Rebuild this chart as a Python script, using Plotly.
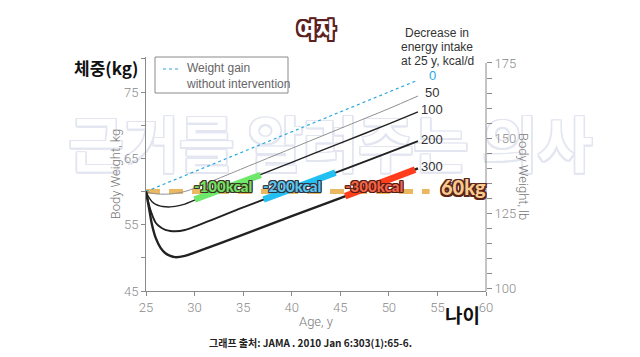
import plotly.graph_objects as go

# ---------------- data ----------------
ages = [25, 25.3, 25.6, 26, 26.5, 27, 27.5, 28, 29, 30, 35, 40, 45, 50, 53]
w_50 = [60, 59.85, 59.75, 59.65, 59.6, 59.6, 59.62, 59.7, 60.0, 60.5, 63.5, 66.5, 69.5, 72.5, 74.4]
w_100 = [60, 59.1, 58.5, 58.05, 57.8, 57.7, 57.68, 57.75, 58.1, 58.7, 61.5, 64.4, 67.3, 70.2, 72.0]
w_200 = [60, 58.0, 56.6, 55.3, 54.6, 54.2, 54.05, 54.0, 54.2, 54.7, 57.6, 60.4, 63.1, 65.9, 67.6]
w_300 = [60, 57.6, 55.1, 53.0, 51.5, 50.7, 50.3, 50.1, 50.3, 50.8, 53.5, 56.3, 59.0, 61.8, 63.5]
gain_ages = [25, 53]
w_gain = [60, 76.8]

hl_100_ages = [30.0, 36.8]
hl_100_w = [58.8, 62.5]
hl_200_ages = [37.1, 44.5]
hl_200_w = [58.8, 62.85]
hl_300_ages = [45.5, 52.7]
hl_300_w = [59.3, 63.3]

ref_ages = [25, 54.2]
ref_w = [60, 60]

end_labels = ["0", "50", "100", "200", "300"]
end_values = [w_gain[-1], w_50[-1], w_100[-1], w_200[-1], w_300[-1]]
end_offsets = [0.65, 0.5, 0.3, 0.25, 0.2]

header_lines = ["Decrease in", "energy intake", "at 25 y, kcal/d"]

x_ticks = [25, 30, 35, 40, 45, 50, 55, 60]
kg_ticks = [45, 55, 65, 75]
lb_ticks = [100, 125, 150, 175]

KG_TO_LB = 2.20462
Y_MIN, Y_MAX = 45, 80.28

AXIS_FONT = "Roboto"
GRAY = "#8a8a8a"


def outline(color, w=1):
    parts = []
    for dx in (-w, 0, w):
        for dy in (-w, 0, w):
            if dx or dy:
                parts.append(f"{dx}px {dy}px 0 {color}")
    return ", ".join(parts)


def px_x(p):
    return (p - 146) / 340


def px_y(p):
    return (291 - p) / 234


fig = go.Figure()

# watermark (drawn first so the curves lie over it)
fig.add_trace(go.Scatter(
    x=[44.0], y=[65.9], mode="text", text=["근거를 알려주는 의사"],
    textfont=dict(family="Noto Sans CJK KR", size=60, color="#ffffff",
                  weight=700, shadow=outline("#e3e6f1", 1.5)),
    cliponaxis=False, hoverinfo="skip", showlegend=False))

# reference 60 kg dashed line
fig.add_trace(go.Scatter(
    x=ref_ages, y=ref_w, mode="lines",
    line=dict(color="#ebb862", width=5, dash="14px,9px"),
    cliponaxis=False, hoverinfo="skip", showlegend=False))

# curves
fig.add_trace(go.Scatter(x=gain_ages, y=w_gain, mode="lines",
                         line=dict(color="#29a8e0", width=1.2, dash="3px,3px"),
                         showlegend=False))
for w, col, lw in [(w_50, "#8f8f8f", 1.0), (w_100, "#222222", 1.4),
                   (w_200, "#222222", 1.9), (w_300, "#222222", 2.4)]:
    fig.add_trace(go.Scatter(x=ages, y=w, mode="lines",
                             line=dict(color=col, width=lw, shape="spline", smoothing=0.8),
                             showlegend=False))

# highlight segments
for xs, ys, col in [(hl_100_ages, hl_100_w, "#6ee86a"),
                    (hl_200_ages, hl_200_w, "#22bff3"),
                    (hl_300_ages, hl_300_w, "#ff3d1c")]:
    fig.add_trace(go.Scatter(x=xs, y=ys, mode="lines",
                             line=dict(color=col, width=6.5),
                             showlegend=False))

# invisible trace carrying the lb axis
fig.add_trace(go.Scatter(x=[25], y=[100], yaxis="y2", mode="markers",
                         marker=dict(opacity=0), showlegend=False, hoverinfo="skip"))

annotations = []
# end labels
for lab, v, off in zip(end_labels, end_values, end_offsets):
    annotations.append(dict(x=54.45, y=v + off, xref="x", yref="y", text=lab,
                            showarrow=False, xanchor="center", yanchor="middle",
                            font=dict(family="Liberation Sans", size=13,
                                      color="#29a8e0" if lab == "0" else "#333333")))

# header for end labels
for i, line in enumerate(header_lines):
    annotations.append(dict(x=px_x(437), y=px_y(33 + 14 * i), xref="paper", yref="paper",
                            text=line, showarrow=False, xanchor="center", yanchor="middle",
                            font=dict(family="Liberation Sans", size=12, color="#333333")))

# kcal labels
kcal_font = "Lato"
for txt, xc, fill, edge in [("-100kcal", 223, "#74e064", "#3b3424"),
                            ("-200kcal", 292, "#5cc6ee", "#2e3440"),
                            ("-300kcal", 374, "#f3664a", "#5a1c12")]:
    annotations.append(dict(x=px_x(xc), y=px_y(186), xref="paper", yref="paper", text=txt,
                            showarrow=False, xanchor="center", yanchor="middle",
                            font=dict(family=kcal_font, size=15, weight=900, color=fill,
                                      shadow=outline(edge, 1))))
annotations.append(dict(x=px_x(463), y=px_y(187), xref="paper", yref="paper",
                        text="60kg", showarrow=False, xanchor="center", yanchor="middle",
                        font=dict(family=kcal_font, size=20, weight=900, color="#f7ca90",
                                  shadow=outline("#5a2418", 1.5))))

# title
annotations.append(dict(x=px_x(316.5), y=px_y(28), xref="paper", yref="paper",
                        text="여자", showarrow=False, xanchor="center", yanchor="middle",
                        font=dict(family="Noto Sans CJK KR", size=21, weight=900, color="#ffffff",
                                  shadow=outline("#5b1f1f", 2))))
# Korean axis notes
annotations.append(dict(x=px_x(105.5), y=px_y(67.5), xref="paper", yref="paper",
                        text="체중(kg)", showarrow=False, xanchor="center", yanchor="middle",
                        font=dict(family="Noto Sans CJK KR", size=17, weight=700, color="#111111")))
annotations.append(dict(x=px_x(462), y=px_y(314), xref="paper", yref="paper",
                        text="나이", showarrow=False, xanchor="center", yanchor="middle",
                        font=dict(family="Noto Sans CJK KR", size=19, weight=700, color="#111111")))
annotations.append(dict(x=px_x(310.5), y=px_y(342), xref="paper", yref="paper",
                        text="그래프 출처: JAMA . 2010 Jan 6:303(1):65-6.", showarrow=False,
                        xanchor="center", yanchor="middle",
                        font=dict(family="Noto Sans CJK KR", size=10, weight=700, color="#222222")))
# right axis title (reads top to bottom)
annotations.append(dict(x=px_x(524), y=px_y(176), xref="paper", yref="paper",
                        text="Body Weight, lb", showarrow=False, textangle=90,
                        xanchor="center", yanchor="middle",
                        font=dict(family=AXIS_FONT, size=13, weight=300, color="#777777")))

# legend (manual box)
annotations.append(dict(x=px_x(184), y=px_y(75.5), xref="paper", yref="paper",
                        text="Weight gain<br>without intervention", showarrow=False,
                        xanchor="left", yanchor="middle", align="left",
                        font=dict(family="Liberation Sans", size=12, color="#666666")))

shapes = [
    dict(type="rect", xref="paper", yref="paper",
         x0=px_x(155), x1=px_x(288), y0=px_y(93), y1=px_y(57),
         line=dict(color="#8a8a8a", width=1), fillcolor="rgba(0,0,0,0)"),
    dict(type="line", xref="paper", yref="paper",
         x0=px_x(163), x1=px_x(181), y0=px_y(69), y1=px_y(69),
         line=dict(color="#29a8e0", width=1.2, dash="3px,3px")),
    # right axis line spanning 100-175 lb
    dict(type="line", xref="paper", yref="y2", x0=1, x1=1, y0=lb_ticks[0] - 0.8, y1=lb_ticks[-1],
         line=dict(color=GRAY, width=1)),
]

fig.update_layout(
    width=640, height=357,
    margin=dict(l=146, r=154, t=57, b=66, autoexpand=False),
    paper_bgcolor="white", plot_bgcolor="white",
    showlegend=False,
    annotations=annotations,
    shapes=shapes,
    xaxis=dict(range=[25, 60], tickvals=x_ticks, ticks="outside", ticklen=4,
               tickcolor=GRAY, showline=True, linecolor=GRAY, linewidth=1,
               showgrid=False, zeroline=False, automargin=False,
               tickfont=dict(family=AXIS_FONT, size=13, weight=300, color=GRAY),
               title=dict(text="Age, y", standoff=3,
                          font=dict(family=AXIS_FONT, size=13, weight=300, color="#777777"))),
    yaxis=dict(range=[Y_MIN, Y_MAX], tickvals=kg_ticks, ticks="outside", ticklen=4,
               tickcolor=GRAY, showline=True, linecolor=GRAY, linewidth=1,
               showgrid=False, zeroline=False, automargin=False,
               minor=dict(dtick=5, tick0=45, ticks="outside", ticklen=4, tickcolor=GRAY),
               tickfont=dict(family=AXIS_FONT, size=13, weight=300, color=GRAY),
               title=dict(text="Body Weight, kg", standoff=0,
                          font=dict(family=AXIS_FONT, size=13, weight=300, color="#777777"))),
    yaxis2=dict(range=[Y_MIN * KG_TO_LB, Y_MAX * KG_TO_LB], overlaying="y", side="right",
                tickvals=lb_ticks, ticks="outside", ticklen=5, tickcolor=GRAY,
                showline=False, showgrid=False, zeroline=False, automargin=False,
                minor=dict(dtick=5, tick0=100, ticks="outside", ticklen=5, tickcolor=GRAY,
                           showgrid=False),
                tickfont=dict(family=AXIS_FONT, size=13, weight=300, color=GRAY)),
)

fig.write_html("out.html", config={"displayModeBar": False},
               post_script="document.body.style.margin='0';")
